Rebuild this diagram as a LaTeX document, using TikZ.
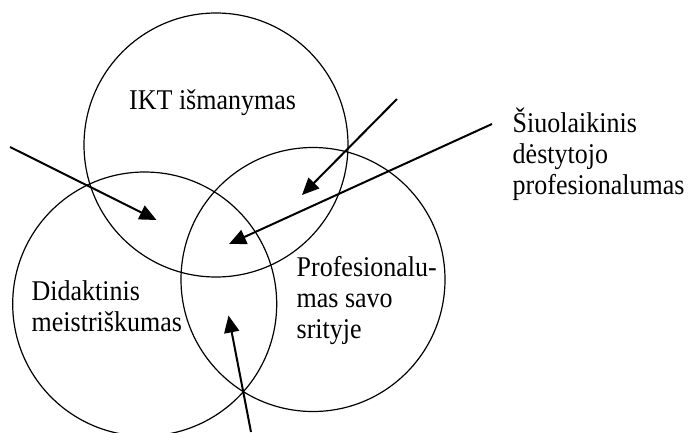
\documentclass[tikz,border=0pt]{standalone}
\usepackage{fontspec}
\usepackage{graphicx}
\setmainfont{Liberation Serif}
\usetikzlibrary{arrows.meta}

% text set slightly taller than the font's natural shape
\newcommand\tallbox[1]{\scalebox{1}[1.1]{#1}}
\newcommand\leftlines[1]{\tallbox{\begin{tabular}[t]{@{}l@{}}#1\end{tabular}}}

\begin{document}
\begin{tikzpicture}[x=1pt,y=-1pt,
  ring/.style={circle, draw, line width=1.2pt, minimum size=264pt, inner sep=0pt, outer sep=0pt},
  label/.style={anchor=base west, inner sep=0pt, font=\fontsize{26}{28.2}\selectfont},
  pointer/.style={line width=2pt, -{Triangle[length=17pt,width=15pt]}}]
  \useasboundingbox (0,0) rectangle (688,432);
  \clip (0,0) rectangle (688,432);

  % the three overlapping areas of competence
  \node[ring] (ikt)  at (216,145) {};
  \node[ring] (did)  at (144.7,304) {};
  \node[ring] (prof) at (313,279.5) {};

  % labels
  \node[label] (iktlab) at (129,109) {\tallbox{IKT išmanymas}};
  \node[label] (didlab) at (31.5,300) {\leftlines{Didaktinis\\meistriškumas}};
  \node[label] (proflab) at (296.5,276) {\leftlines{Profesionalu-\\mas savo\\srityje}};
  \node[label] (whole) at (512.5,132.5) {\leftlines{Šiuolaikinis\\dėstytojo\\profesionalumas}};

  % arrow ends and targets
  \coordinate (a1s) at (10,147);
  \coordinate (a1e) at (156.5,220);
  \coordinate (a2s) at (397,99);
  \coordinate (a2e) at (302,195);
  \coordinate (a3s) at (492,124);
  \coordinate (a3e) at (229,244);
  \coordinate (a4s) at (251,432);
  \coordinate (a4e) at (228.5,315.5);

  \draw[pointer] (a1s) -- (a1e);
  \draw[pointer] (a2s) -- (a2e);
  \draw[pointer] (a3s) -- (a3e);
  \draw[pointer] (a4s) -- (a4e);
\end{tikzpicture}
\end{document}
